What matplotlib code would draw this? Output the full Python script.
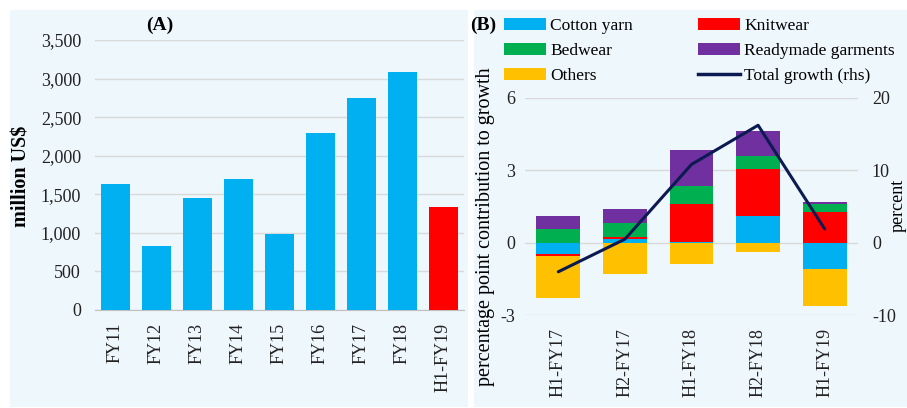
import matplotlib.pyplot as plt
from matplotlib.patches import Rectangle
from matplotlib.lines import Line2D
import numpy as np

plt.rcParams['font.family'] = ['Liberation Serif', 'DejaVu Serif']
plt.rcParams['axes.unicode_minus'] = False

# Panel A: textile exports
years = ['FY11', 'FY12', 'FY13', 'FY14', 'FY15', 'FY16', 'FY17', 'FY18', 'H1-FY19']
exports = [1635, 830, 1450, 1700, 980, 2300, 2745, 3085, 1340]

# Panel B: contribution to growth
periods = ['H1-FY17', 'H2-FY17', 'H1-FY18', 'H2-FY18', 'H1-FY19']
cotton_yarn = [-0.45, 0.16, 0.02, 1.12, -1.09]
knitwear = [-0.11, 0.08, 1.6, 1.92, 1.26]
bedwear = [0.57, 0.56, 0.74, 0.56, 0.36]
readymade = [0.55, 0.61, 1.49, 1.02, 0.08]
others = [-1.74, -1.3, -0.87, -0.39, -1.53]
total_growth = [-4.0, 0.5, 10.8, 16.2, 1.9]

W, H = 907, 408
BG = '#EEF7FC'
GRID = '#D9D9D9'
cyan, red, green, purple, orange = '#00B0F0', '#FF0000', '#00B050', '#7030A0', '#FFC000'
navy = '#0C1A52'

def box(x0, y0, x1, y1):
    # pixel box (top-left origin) -> figure fraction rect
    return [x0 / W, 1 - y1 / H, (x1 - x0) / W, (y1 - y0) / H]

fig = plt.figure(figsize=(W / 100, H / 100), dpi=100, facecolor='white')

for x0, x1 in [(10, 468), (474, 907)]:
    r = box(x0, 10, x1, 407)
    fig.add_artist(Rectangle((r[0], r[1]), r[2], r[3], transform=fig.transFigure,
                             facecolor=BG, edgecolor='none', zorder=0))

# ---- Panel A ----
axA = fig.add_axes(box(95, 40, 464, 310))
axA.set_facecolor('none')
colsA = [cyan] * (len(years) - 1) + [red]
axA.bar(np.arange(len(years)), exports, width=0.71, color=colsA, zorder=3)
axA.set_xlim(-0.5, len(years) - 0.5)
axA.set_ylim(0, 3500)
axA.set_yticks(range(0, 3501, 500))
axA.set_yticklabels([f'{v:,}' for v in range(0, 3501, 500)])
axA.set_xticks(np.arange(len(years)))
axA.set_xticklabels(years, rotation=90)
axA.grid(axis='y', color=GRID, linewidth=1, zorder=0)
for s in ['top', 'right', 'left']:
    axA.spines[s].set_visible(False)
axA.spines['bottom'].set_color('#BFBFBF')
axA.tick_params(axis='both', length=0, labelsize=13, colors='#222222')
axA.tick_params(axis='y', pad=10)
axA.tick_params(axis='x', pad=9)
fig.text(22 / W, 1 - 176 / H, 'million US$', fontsize=14.5, fontweight='bold',
         rotation=90, ha='center', va='center')
fig.text(160 / W, 1 - 25 / H, '(A)', fontsize=14, fontweight='bold', ha='center', va='center')

# ---- Panel B ----
axB = fig.add_axes(box(525, 97.7, 858, 315.3))
axB.set_facecolor('none')
x = np.arange(len(periods))
pos_base = np.zeros(len(periods))
neg_base = np.zeros(len(periods))
series = [(cotton_yarn, cyan), (knitwear, red), (bedwear, green),
          (readymade, purple), (others, orange)]
for vals, c in series:
    v = np.array(vals)
    base = np.where(v >= 0, pos_base, neg_base)
    axB.bar(x, v, bottom=base, width=0.66, color=c, zorder=3)
    pos_base += np.where(v >= 0, v, 0)
    neg_base += np.where(v < 0, v, 0)
axB.set_xlim(-0.5, len(periods) - 0.5)
axB.set_ylim(-3, 6)
axB.set_yticks([-3, 0, 3, 6])
axB.set_xticks(x)
axB.set_xticklabels(periods, rotation=90)
axB.grid(axis='y', color=GRID, linewidth=1, zorder=0)
for s in axB.spines.values():
    s.set_visible(False)
axB.tick_params(axis='both', length=0, labelsize=13, colors='#222222')
axB.tick_params(axis='y', pad=7)
axB.tick_params(axis='x', pad=9)

axR = axB.twinx()
axR.plot(x, total_growth, color=navy, linewidth=2.2, zorder=5, solid_capstyle='round')
axR.set_ylim(-10, 20)
axR.set_yticks([-10, 0, 10, 20])
for s in axR.spines.values():
    s.set_visible(False)
axR.tick_params(axis='y', length=0, labelsize=13, colors='#222222', pad=10)

fig.text(485 / W, 1 - 227 / H, 'percentage point contribution to growth', fontsize=14.5,
         rotation=90, ha='center', va='center')
fig.text(898 / W, 1 - 205 / H, 'percent', fontsize=13, rotation=90, ha='center', va='center')
fig.text(483 / W, 1 - 25 / H, '(B)', fontsize=14, fontweight='bold', ha='center', va='center')

# legend
def patch(c):
    return Rectangle((0, 0), 1, 1, facecolor=c, edgecolor='none')

leg_kw = dict(frameon=False, fontsize=12.5, handlelength=2.4, handleheight=0.65,
              handletextpad=0.25, labelspacing=0.52, borderpad=0, borderaxespad=0,
              loc='upper left')
fig.legend([patch(cyan), patch(green), patch(orange)],
           ['Cotton yarn', 'Bedwear', 'Others'],
           bbox_to_anchor=(504 / W, 1 - 18 / H), **leg_kw)
fig.legend([patch(red), patch(purple), Line2D([], [], color=navy, linewidth=2.5)],
           ['Knitwear', 'Readymade garments', 'Total growth (rhs)'],
           bbox_to_anchor=(698 / W, 1 - 18 / H), **leg_kw)

fig.savefig('out.png', dpi=100, facecolor='white')
